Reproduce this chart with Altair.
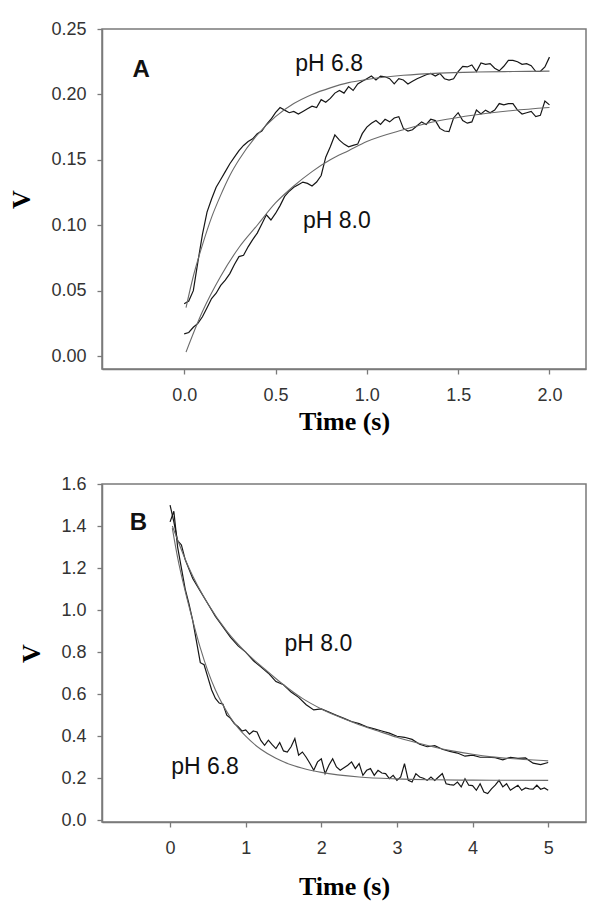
import altair as alt
import numpy as np
import pandas as pd

# ---------------- Panel A (0 - 2 s) ----------------
a_time = [round(i * 0.025, 3) for i in range(81)]
a_ph68 = [0.040, 0.042, 0.050, 0.072, 0.093, 0.110, 0.120, 0.129,
          0.135, 0.141, 0.147, 0.152, 0.157, 0.161, 0.164, 0.166,
          0.170, 0.172, 0.177, 0.181, 0.186, 0.190, 0.188, 0.186,
          0.187, 0.185, 0.187, 0.189, 0.191, 0.190, 0.196, 0.194,
          0.197, 0.201, 0.203, 0.201, 0.206, 0.203, 0.208, 0.210,
          0.212, 0.214, 0.211, 0.214, 0.2135, 0.212, 0.208, 0.212,
          0.211, 0.208, 0.210, 0.212, 0.2135, 0.215, 0.216, 0.214,
          0.216, 0.212, 0.211, 0.212, 0.2175, 0.2215, 0.221, 0.2225,
          0.2175, 0.224, 0.223, 0.2235, 0.220, 0.218, 0.2215, 0.226,
          0.226, 0.225, 0.223, 0.2235, 0.222, 0.2175, 0.2175, 0.221,
          0.2285]
a_ph80 = [0.017, 0.018, 0.022, 0.025, 0.030, 0.037, 0.044, 0.048,
          0.054, 0.058, 0.063, 0.070, 0.076, 0.077, 0.0835, 0.089,
          0.094, 0.101, 0.108, 0.104, 0.109, 0.115, 0.122, 0.126,
          0.129, 0.131, 0.133, 0.132, 0.130, 0.133, 0.138, 0.152,
          0.160, 0.169, 0.165, 0.162, 0.160, 0.161, 0.162, 0.170,
          0.175, 0.178, 0.180, 0.177, 0.181, 0.179, 0.182, 0.183,
          0.174, 0.172, 0.173, 0.176, 0.179, 0.177, 0.181, 0.180,
          0.174, 0.172, 0.1715, 0.182, 0.186, 0.180, 0.178, 0.179,
          0.188, 0.185, 0.188, 0.186, 0.188, 0.193, 0.192, 0.193,
          0.193, 0.188, 0.185, 0.186, 0.187, 0.183, 0.184, 0.195,
          0.192]
a_fit68_t = [0.01, 0.05, 0.1, 0.15, 0.2, 0.25, 0.3, 0.4, 0.5, 0.6, 0.7,
             0.8, 0.9, 1.0, 1.2, 1.4, 1.6, 1.8, 2.0]
a_fit68_v = [0.037, 0.061, 0.085, 0.106, 0.123, 0.138, 0.150, 0.169, 0.183,
             0.193, 0.200, 0.205, 0.209, 0.2114, 0.2146, 0.2163, 0.2171,
             0.2175, 0.2178]
a_fit80_t = [0.01, 0.1, 0.2, 0.3, 0.4, 0.5, 0.6, 0.7, 0.8, 0.9, 1.0, 1.2,
             1.4, 1.6, 1.8, 2.0]
a_fit80_v = [0.003, 0.034, 0.061, 0.083, 0.100, 0.117, 0.130, 0.141, 0.150,
             0.157, 0.164, 0.173, 0.180, 0.1845, 0.1877, 0.190]
a_text = ["A", "pH 6.8", "pH 8.0"]
a_text_x = [-0.235, 0.794, 0.836]
a_text_y = [0.2135, 0.218, 0.098]

# ---------------- Panel B (0 - 5 s) ----------------
b_time68 = [round(i * 0.05, 3) for i in range(101)]
b_ph68 = [1.42, 1.47, 1.30, 1.20, 1.10, 1.03, 0.95, 0.85, 0.75, 0.74,
          0.68, 0.62, 0.58, 0.558, 0.552, 0.50, 0.485, 0.46, 0.445, 0.425,
          0.43, 0.41, 0.425, 0.42, 0.38, 0.357, 0.381, 0.36, 0.341, 0.37,
          0.33, 0.325, 0.35, 0.389, 0.31, 0.325, 0.30, 0.27, 0.238, 0.278,
          0.293, 0.222, 0.262, 0.293, 0.254, 0.238, 0.25, 0.262, 0.278, 0.246,
          0.27, 0.214, 0.238, 0.246, 0.214, 0.238, 0.225, 0.222, 0.198, 0.214,
          0.19, 0.206, 0.27, 0.19, 0.182, 0.222, 0.206, 0.20, 0.19, 0.206,
          0.19, 0.206, 0.222, 0.174, 0.17, 0.167, 0.182, 0.159, 0.198, 0.167,
          0.165, 0.143, 0.174, 0.135, 0.127, 0.15, 0.167, 0.19, 0.159, 0.174,
          0.143, 0.155, 0.167, 0.143, 0.154, 0.15, 0.148, 0.167, 0.148, 0.154,
          0.143]
b_time80 = [0.0, 0.05, 0.1, 0.15, 0.2,
            0.3, 0.4, 0.5, 0.6, 0.7, 0.8, 0.9, 1.0, 1.1, 1.2,
            1.3, 1.4, 1.5, 1.6, 1.7, 1.8, 1.9, 2.0, 2.1, 2.2,
            2.3, 2.4, 2.5, 2.6, 2.7, 2.8, 2.9, 3.0, 3.1, 3.2,
            3.3, 3.4, 3.5, 3.6, 3.7, 3.8, 3.9, 4.0, 4.1, 4.2,
            4.3, 4.4, 4.5, 4.6, 4.7, 4.8, 4.9, 5.0]
b_ph80 = [1.50, 1.42, 1.33, 1.31, 1.24,
          1.15, 1.09, 1.03, 0.97, 0.92, 0.87, 0.83, 0.80, 0.76, 0.73,
          0.70, 0.66, 0.645, 0.61, 0.585, 0.55, 0.525, 0.53, 0.515, 0.50,
          0.485, 0.47, 0.46, 0.445, 0.435, 0.425, 0.415, 0.40, 0.395, 0.385,
          0.362, 0.35, 0.355, 0.338, 0.328, 0.32, 0.305, 0.31, 0.30, 0.30,
          0.298, 0.288, 0.30, 0.295, 0.297, 0.272, 0.265, 0.275]
b_fit80_t = [0.03, 0.25, 0.5, 0.75, 1.0, 1.25, 1.5, 1.75, 2.0, 2.25, 2.5,
             2.75, 3.0, 3.25, 3.5, 3.75, 4.0, 4.25, 4.5, 4.75, 5.0]
b_fit80_v = [1.40, 1.20, 1.03, 0.90, 0.80, 0.72, 0.645, 0.58, 0.53, 0.49,
             0.455, 0.425, 0.395, 0.37, 0.348, 0.329, 0.314, 0.302, 0.294,
             0.288, 0.283]
b_fit68_t = [0.03, 0.1, 0.2, 0.3, 0.4, 0.5, 0.6, 0.7, 0.8, 0.9, 1.0, 1.2,
             1.4, 1.6, 1.8, 2.0, 2.5, 3.0, 3.5, 4.0, 5.0]
b_fit68_v = [1.39, 1.25, 1.09, 0.95, 0.82, 0.71, 0.62, 0.548, 0.488, 0.44,
             0.40, 0.338, 0.295, 0.264, 0.243, 0.228, 0.206, 0.197, 0.193,
             0.191, 0.19]
b_text = ["B", "pH 8.0", "pH 6.8"]
b_text_x = [-0.419, 1.96, 0.462]
b_text_y = [1.381, 0.805, 0.222]

# ---------------- helpers ----------------
LABEL_FONT = "Liberation Sans"
TITLE_FONT = "Liberation Serif"
FRAME = "#7a7a7a"


def make_panel(data_sets, fit_sets, texts, tx, ty, xdom, ydom, xvals, yvals,
               xfmt, yfmt, height, xtitle_pad):
    rows = []
    for name, (t, v) in data_sets.items():
        rows += [{"t": a, "v": b, "s": name} for a, b in zip(t, v)]
    ddf = pd.DataFrame(rows)
    rows = []
    for name, (t, v) in fit_sets.items():
        rows += [{"t": a, "v": b, "s": name} for a, b in zip(t, v)]
    fdf = pd.DataFrame(rows)
    tdf = pd.DataFrame({"t": tx, "v": ty, "label": texts,
                        "bold": [True] + [False] * (len(texts) - 1)})

    xaxis = alt.Axis(values=xvals, format=xfmt, title="Time (s)", grid=False,
                     tickSize=5, labelPadding=12, titlePadding=xtitle_pad,
                     labelFontSize=18, labelFont=LABEL_FONT, labelColor="#333",
                     titleFontSize=26, titleFont=TITLE_FONT,
                     titleFontWeight="bold", titleColor="#000",
                     domainColor=FRAME, tickColor=FRAME, domainWidth=1.5,
                     tickWidth=1.3)
    yaxis = alt.Axis(values=yvals, format=yfmt, title="V", grid=False,
                     tickSize=5, labelPadding=11, titlePadding=16,
                     labelFontSize=18, labelFont=LABEL_FONT, labelColor="#333",
                     titleFontSize=26, titleFont=TITLE_FONT,
                     titleFontWeight="bold", titleColor="#000",
                     domainColor=FRAME, tickColor=FRAME, domainWidth=1.5,
                     tickWidth=1.3)
    xs = alt.Scale(domain=xdom, nice=False, zero=False)
    ys = alt.Scale(domain=ydom, nice=False, zero=False)
    X = alt.X("t:Q", scale=xs, axis=xaxis)
    Y = alt.Y("v:Q", scale=ys, axis=yaxis)

    data_lines = alt.Chart(ddf).mark_line(color="#161616", strokeWidth=1.2).encode(
        x=X, y=Y, detail="s:N")
    fit_lines = alt.Chart(fdf).mark_line(color="#6a6a6a", strokeWidth=1.1,
                                         interpolate="monotone").encode(
        x=X, y=Y, detail="s:N")
    letter = alt.Chart(tdf[tdf.bold]).mark_text(
        font=LABEL_FONT, fontSize=24, fontWeight="bold", align="center",
        baseline="alphabetic", color="#111").encode(x=X, y=Y, text="label:N")
    labels = alt.Chart(tdf[~tdf.bold]).mark_text(
        font=LABEL_FONT, fontSize=23, align="center", baseline="alphabetic",
        color="#111").encode(x=X, y=Y, text="label:N")
    return alt.layer(data_lines, fit_lines, letter, labels).properties(
        width=484, height=height)


panel_a = make_panel(
    {"pH 6.8": (a_time, a_ph68), "pH 8.0": (a_time, a_ph80)},
    {"pH 6.8": (a_fit68_t, a_fit68_v), "pH 8.0": (a_fit80_t, a_fit80_v)},
    a_text, a_text_x, a_text_y,
    [-0.45, 2.2], [-0.0099, 0.25],
    [0, 0.5, 1.0, 1.5, 2.0], [0, 0.05, 0.10, 0.15, 0.20, 0.25],
    ".1f", ".2f", 340, 4)

panel_b = make_panel(
    {"pH 6.8": (b_time68, b_ph68), "pH 8.0": (b_time80, b_ph80)},
    {"pH 6.8": (b_fit68_t, b_fit68_v), "pH 8.0": (b_fit80_t, b_fit80_v)},
    b_text, b_text_x, b_text_y,
    [-0.9, 5.5], [-0.008, 1.6],
    [0, 1, 2, 3, 4, 5], [0, 0.2, 0.4, 0.6, 0.8, 1.0, 1.2, 1.4, 1.6],
    "d", ".1f", 338, 16)

chart = alt.vconcat(panel_a, panel_b, spacing=39).properties(
    padding={"left": 0, "top": 11, "right": 5, "bottom": 5},
    background="white",
).configure_view(stroke=FRAME, strokeWidth=1.5)

chart.save("out.html", embed_options={"renderer": "svg", "actions": False})
